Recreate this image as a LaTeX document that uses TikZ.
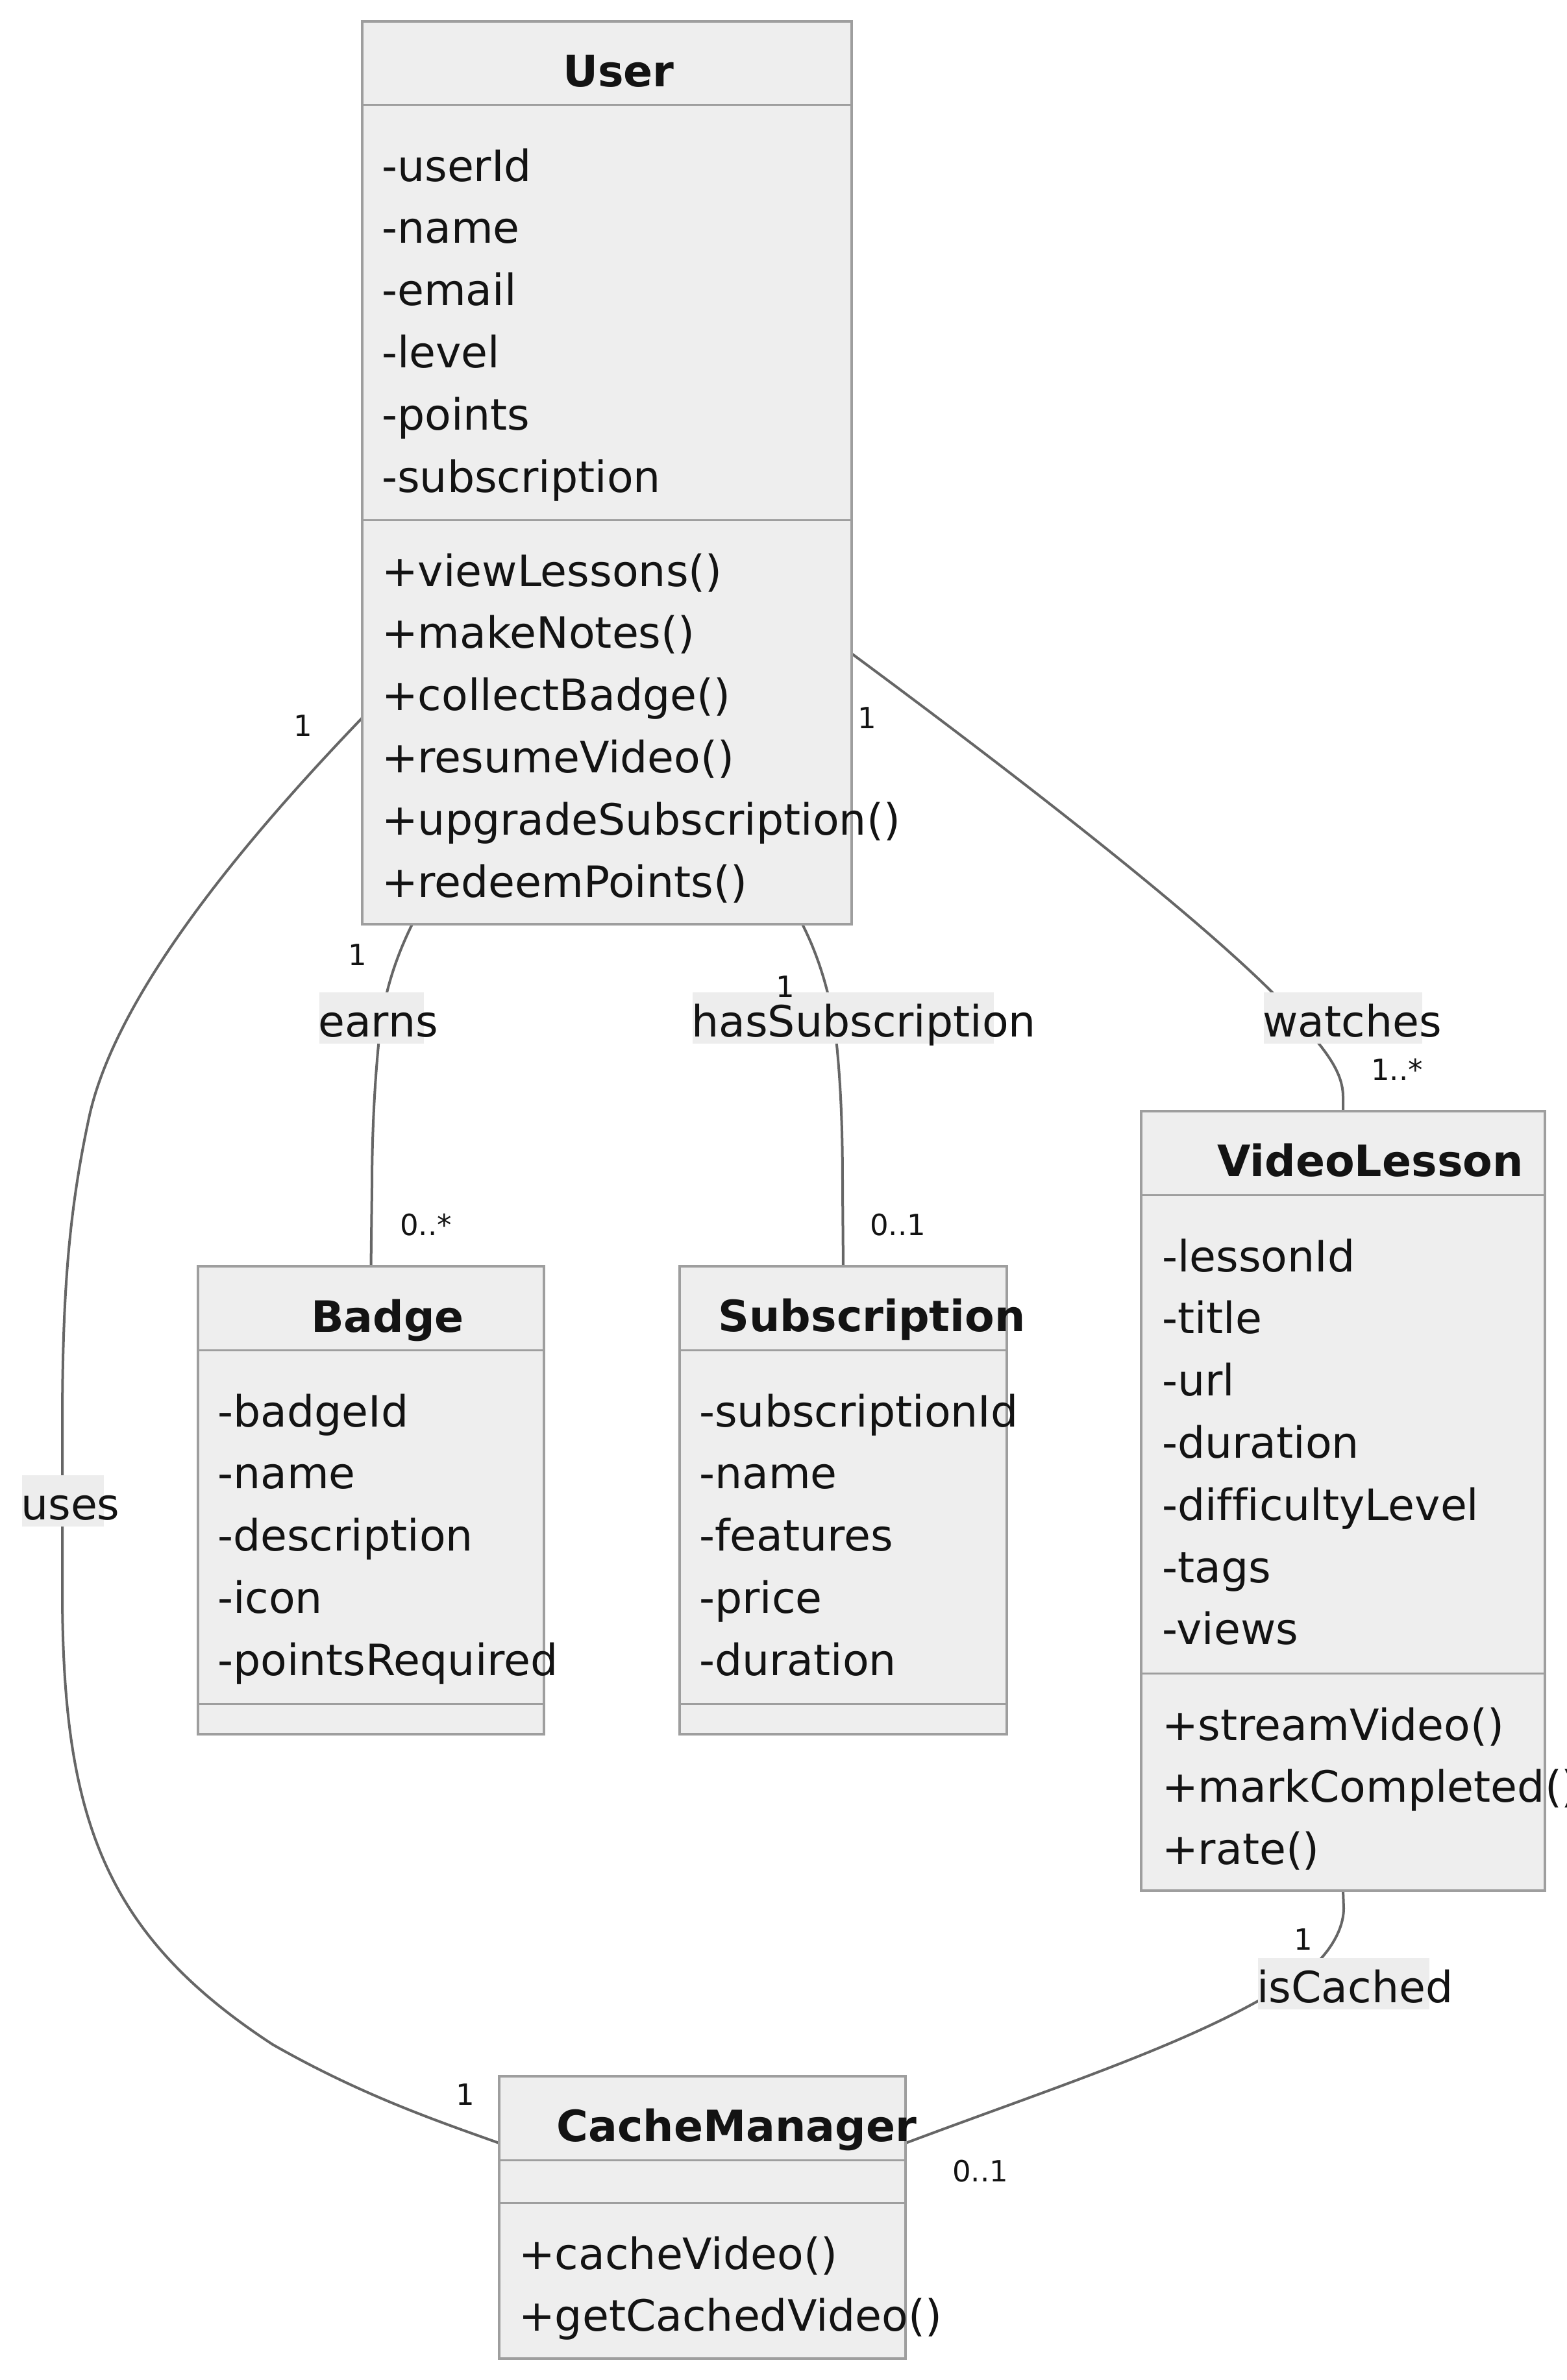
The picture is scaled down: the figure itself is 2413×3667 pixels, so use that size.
\documentclass[tikz,border=0pt]{standalone}
\usepackage{fontspec}
\setmainfont{DejaVu Sans}[Ligatures=CommonOff]
\usetikzlibrary{calc}
\definecolor{boxfill}{HTML}{EEEEEE}
\definecolor{boxline}{HTML}{9E9E9E}
\definecolor{edgecol}{HTML}{666666}
\definecolor{txtcol}{HTML}{131313}
\definecolor{lblfill}{HTML}{EDEDED}
\begin{document}
\begin{tikzpicture}[x=1pt,y=-1pt,
 classbox/.style={draw=boxline, fill=boxfill, line width=3.5pt, inner sep=0pt, outer sep=0pt, anchor=north west},
 sepline/.style={draw=boxline, line width=3pt},
 conn/.style={draw=edgecol, line width=4pt},
 member/.style={anchor=base west, inner sep=0pt, text=txtcol, font=\fontsize{66.5}{80}\selectfont},
 title/.style={anchor=base, inner sep=0pt, text=txtcol, font=\fontsize{66.5}{80}\selectfont\bfseries},
 lblbg/.style={fill=lblfill, inner sep=0pt, outer sep=0pt, anchor=north west, minimum height=79pt},
 mult/.style={inner sep=0pt, text=txtcol, font=\fontsize{45}{54}\selectfont},
]
\useasboundingbox (0,0) rectangle (2413,3667);
\clip (0,0) rectangle (2413,3667);

% ---------- class boxes (named, used as connector ends) ----------
\node[classbox, minimum width=754pt, minimum height=1391pt] (user) at (558,33) {};
\node[classbox, minimum width=533pt, minimum height=721pt] (badge) at (305,1951) {};
\node[classbox, minimum width=504pt, minimum height=721pt] (sub) at (1047,1951) {};
\node[classbox, minimum width=622pt, minimum height=1201pt] (video) at (1758,1712) {};
\node[classbox, minimum width=626pt, minimum height=435pt] (cache) at (769,3199) {};

% ---------- connectors ----------
\draw[conn] ($(user.south west)+(77,0)$) .. controls (605,1485) and (590,1540) .. (584,1600)
  .. controls (576,1680) and (573,1760) .. (573,1830) -- (badge.north);
\draw[conn] ($(user.south west)+(678,0)$) .. controls (1262,1475) and (1282,1540) .. (1289,1610)
  .. controls (1296,1680) and (1298,1750) .. (1298,1830) -- (sub.north);
\draw[conn] ($(user.north east)+(0,974)$) .. controls (1600,1220) and (1880,1440) .. (1990,1560)
  .. controls (2040,1615) and (2069,1650) .. (2069,1690) -- (video.north);
\draw[conn] ($(user.north west)+(0,1073)$) .. controls (420,1250) and (185,1510) .. (138,1718)
  .. controls (105,1870) and (96,2000) .. (96,2200) -- (96,2450)
  .. controls (96,2800) and (160,2980) .. (420,3150)
  .. controls (560,3230) and (680,3270) .. ($(cache.north west)+(0,103)$);
\draw[conn] (video.south) -- (2070,2940) .. controls (2070,2990) and (2020,3050) .. (1938,3083)
  .. controls (1800,3160) and (1600,3225) .. ($(cache.north east)+(0,103)$);

% boxes drawn again over the connector ends
\node[classbox, minimum width=754pt, minimum height=1391pt] (user2) at (558,33) {};
\node[classbox, minimum width=533pt, minimum height=721pt] (badge2) at (305,1951) {};
\node[classbox, minimum width=504pt, minimum height=721pt] (sub2) at (1047,1951) {};
\node[classbox, minimum width=622pt, minimum height=1201pt] (video2) at (1758,1712) {};
\node[classbox, minimum width=626pt, minimum height=435pt] (cache2) at (769,3199) {};

% ---------- separators ----------
\draw[sepline] (558,161) -- (1312,161);
\draw[sepline] (558,801) -- (1312,801);
\draw[sepline] (305,2080) -- (838,2080);
\draw[sepline] (305,2625) -- (838,2625);
\draw[sepline] (1047,2080) -- (1551,2080);
\draw[sepline] (1047,2625) -- (1551,2625);
\draw[sepline] (1758,1841) -- (2380,1841);
\draw[sepline] (1758,2578) -- (2380,2578);
\draw[sepline] (769,3328) -- (1395,3328);
\draw[sepline] (769,3394) -- (1395,3394);

% ---------- titles ----------
\node[title] (tuser) at (953,133) {User};
\node[title] (tbadge) at (597,2052) {Badge};
\node[title] (tsub) at (1343,2051) {Subscription};
\node[title] (tvideo) at (2111,1812) {VideoLesson};
\node[title] (tcache) at (1135,3299) {CacheManager};

% ---------- members ----------
\foreach \t [count=\i] in {-userId,-name,-email,-level,-points,-subscription}
  \node[member] (ua\i) at (588,{279+95.8*(\i-1)}) {\t};
\foreach \t [count=\i] in {+viewLessons(),+makeNotes(),+collectBadge(),+resumeVideo(),+upgradeSubscription(),+redeemPoints()}
  \node[member] (um\i) at (588,{903+95.8*(\i-1)}) {\t};
\foreach \t [count=\i] in {-badgeId,-name,-description,-icon,-pointsRequired}
  \node[member] (ba\i) at (335,{2198+95.8*(\i-1)}) {\t};
\foreach \t [count=\i] in {-subscriptionId,-name,-features,-price,-duration}
  \node[member] (sa\i) at (1077,{2198+95.8*(\i-1)}) {\t};
\foreach \t [count=\i] in {-lessonId,-title,-url,-duration,-difficultyLevel,-tags,-views}
  \node[member] (va\i) at (1790,{1959+95.8*(\i-1)}) {\t};
\foreach \t [count=\i] in {+streamVideo(),+markCompleted(),+rate()}
  \node[member] (vm\i) at (1790,{2681+95.8*(\i-1)}) {\t};
\foreach \t [count=\i] in {+cacheVideo(),+getCachedVideo()}
  \node[member] (cm\i) at (799,{3496+95.8*(\i-1)}) {\t};

% ---------- edge labels ----------
\node[lblbg, minimum width=161pt] (earnsbg) at (492,1529) {};
\node[member] (earns) at (490,1597) {earns};
\node[lblbg, minimum width=464pt] (hasbg) at (1067,1529) {};
\node[member] (has) at (1065,1597) {hasSubscription};
\node[lblbg, minimum width=244pt] (watchbg) at (1947,1529) {};
\node[member] (watch) at (1945,1597) {watches};
\node[lblbg, minimum width=126pt] (usesbg) at (34,2273) {};
\node[member] (uses) at (32,2341) {uses};
\node[lblbg, minimum width=264pt] (cachedbg) at (1938,3017) {};
\node[member] (cached) at (1936,3085) {isCached};

% ---------- multiplicities ----------
\node[mult] (m1) at (551,1471) {1};
\node[mult] (m2) at (656,1887) {0..*};
\node[mult] (m3) at (1210,1520) {1};
\node[mult] (m4) at (1383,1887) {0..1};
\node[mult] (m5) at (467,1118) {1};
\node[mult] (m6) at (1336,1106) {1};
\node[mult] (m7) at (2152,1648) {1..*};
\node[mult] (m8) at (2008,2988) {1};
\node[mult] (m9) at (717,3227) {1};
\node[mult] (m10) at (1510,3345) {0..1};
\end{tikzpicture}
\end{document}
